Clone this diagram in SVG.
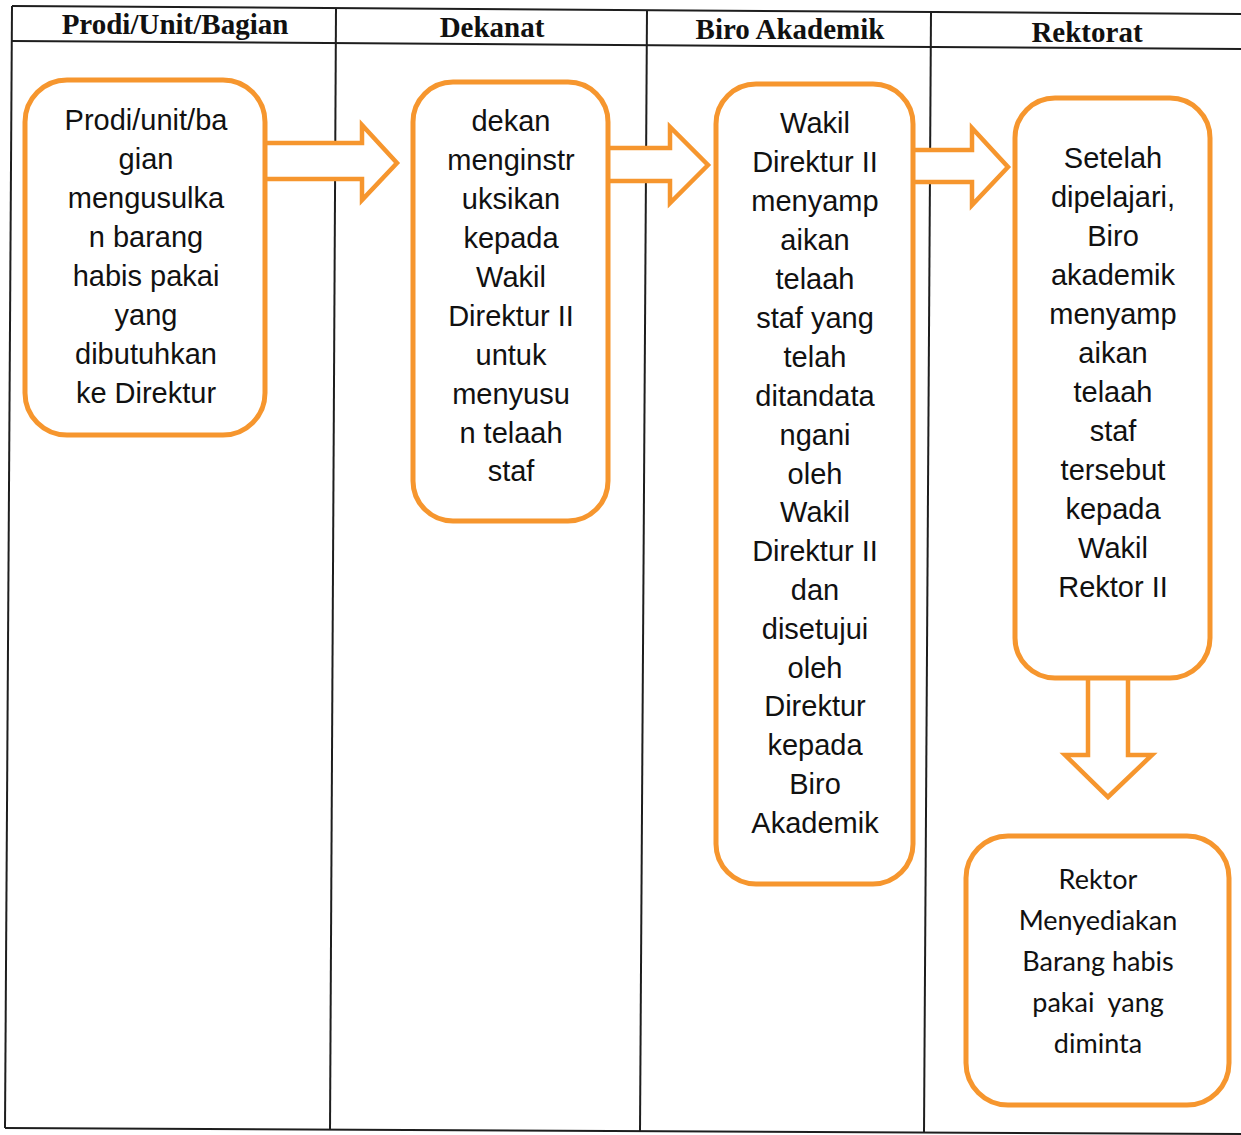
<svg xmlns="http://www.w3.org/2000/svg" width="1241" height="1135" viewBox="0 0 1241 1135">
  <style>
    .grid { stroke: #1e1e1e; stroke-width: 2; fill: none; }
    .head { font-family: "Liberation Serif", "Times New Roman", serif; font-weight: bold; font-size: 29px; fill: #111; text-anchor: middle; }
    .box { fill: #ffffff; stroke: #F6962E; stroke-width: 5; }
    .arrow { fill: #ffffff; stroke: #F6962E; stroke-width: 4.5; stroke-linejoin: miter; }
    .txt { font-family: "Liberation Sans", Arial, sans-serif; font-size: 29px; fill: #111; text-anchor: middle; }
    .txt2 { font-family: Lato, "Open Sans", sans-serif; font-size: 27px; fill: #111; text-anchor: middle; }
  </style>
  <rect x="0" y="0" width="1241" height="1135" fill="#ffffff"/>

  <!-- swimlane table -->
  <g id="table">
    <line class="grid" x1="12" y1="6" x2="1241" y2="14"/>
    <line class="grid" x1="12" y1="41" x2="1241" y2="49" stroke-width="2.5"/>
    <line class="grid" x1="5" y1="1128" x2="1241" y2="1134"/>
    <line class="grid" x1="12" y1="6" x2="5" y2="1128"/>
    <line class="grid" x1="336" y1="8" x2="330" y2="1130"/>
    <line class="grid" x1="647" y1="10" x2="640" y2="1131"/>
    <line class="grid" x1="931" y1="12" x2="924" y2="1133"/>
    <text class="head" x="175" y="34">Prodi/Unit/Bagian</text>
    <text class="head" x="492" y="37">Dekanat</text>
    <text class="head" x="790" y="39">Biro Akademik</text>
    <text class="head" x="1087" y="42">Rektorat</text>
  </g>

  <!-- block arrows between steps -->
  <g id="connectors">
    <path class="arrow" d="M265,143 H362 V125 L397,163 L362,200 V179 H265"/>
    <path class="arrow" d="M608,148 H670 V127 L708,165 L670,203 V181 H608"/>
    <path class="arrow" d="M911,150 H972 V128 L1008,167 L972,205 V182 H911"/>
    <path class="arrow" d="M1088,678 V755 H1065 L1108,797 L1152,755 H1128 V678"/>
  </g>

  <g id="step1">
    <rect class="box" x="25" y="80" width="240" height="355" rx="42"/>
    <text class="txt" x="146" y="130">Prodi/unit/ba</text>
    <text class="txt" x="146" y="169">gian</text>
    <text class="txt" x="146" y="208">mengusulka</text>
    <text class="txt" x="146" y="247">n barang</text>
    <text class="txt" x="146" y="286">habis pakai</text>
    <text class="txt" x="146" y="325">yang</text>
    <text class="txt" x="146" y="364">dibutuhkan</text>
    <text class="txt" x="146" y="403">ke Direktur</text>
  </g>

  <g id="step2">
    <rect class="box" x="413" y="82" width="195" height="439" rx="40"/>
    <text class="txt" x="511" y="131">dekan</text>
    <text class="txt" x="511" y="170">menginstr</text>
    <text class="txt" x="511" y="209">uksikan</text>
    <text class="txt" x="511" y="248">kepada</text>
    <text class="txt" x="511" y="287">Wakil</text>
    <text class="txt" x="511" y="326">Direktur II</text>
    <text class="txt" x="511" y="365">untuk</text>
    <text class="txt" x="511" y="404">menyusu</text>
    <text class="txt" x="511" y="443">n telaah</text>
    <text class="txt" x="511" y="481">staf</text>
  </g>

  <g id="step3">
    <rect class="box" x="716" y="84" width="197" height="800" rx="40"/>
    <text class="txt" x="815" y="133">Wakil</text>
    <text class="txt" x="815" y="172">Direktur II</text>
    <text class="txt" x="815" y="211">menyamp</text>
    <text class="txt" x="815" y="250">aikan</text>
    <text class="txt" x="815" y="289">telaah</text>
    <text class="txt" x="815" y="328">staf yang</text>
    <text class="txt" x="815" y="367">telah</text>
    <text class="txt" x="815" y="406">ditandata</text>
    <text class="txt" x="815" y="445">ngani</text>
    <text class="txt" x="815" y="484">oleh</text>
    <text class="txt" x="815" y="522">Wakil</text>
    <text class="txt" x="815" y="561">Direktur II</text>
    <text class="txt" x="815" y="600">dan</text>
    <text class="txt" x="815" y="639">disetujui</text>
    <text class="txt" x="815" y="678">oleh</text>
    <text class="txt" x="815" y="716">Direktur</text>
    <text class="txt" x="815" y="755">kepada</text>
    <text class="txt" x="815" y="794">Biro</text>
    <text class="txt" x="815" y="833">Akademik</text>
  </g>

  <g id="step4">
    <rect class="box" x="1015" y="98" width="195" height="580" rx="40"/>
    <text class="txt" x="1113" y="168">Setelah</text>
    <text class="txt" x="1113" y="207">dipelajari,</text>
    <text class="txt" x="1113" y="246">Biro</text>
    <text class="txt" x="1113" y="285">akademik</text>
    <text class="txt" x="1113" y="324">menyamp</text>
    <text class="txt" x="1113" y="363">aikan</text>
    <text class="txt" x="1113" y="402">telaah</text>
    <text class="txt" x="1113" y="441">staf</text>
    <text class="txt" x="1113" y="480">tersebut</text>
    <text class="txt" x="1113" y="519">kepada</text>
    <text class="txt" x="1113" y="558">Wakil</text>
    <text class="txt" x="1113" y="597">Rektor II</text>
  </g>

  <g id="step5">
    <rect class="box" x="966" y="836" width="263" height="269" rx="42"/>
    <text class="txt2" x="1098" y="889">Rektor</text>
    <text class="txt2" x="1098" y="930">Menyediakan</text>
    <text class="txt2" x="1098" y="971">Barang habis</text>
    <text class="txt2" x="1098" y="1012" xml:space="preserve">pakai  yang</text>
    <text class="txt2" x="1098" y="1053">diminta</text>
  </g>
</svg>
